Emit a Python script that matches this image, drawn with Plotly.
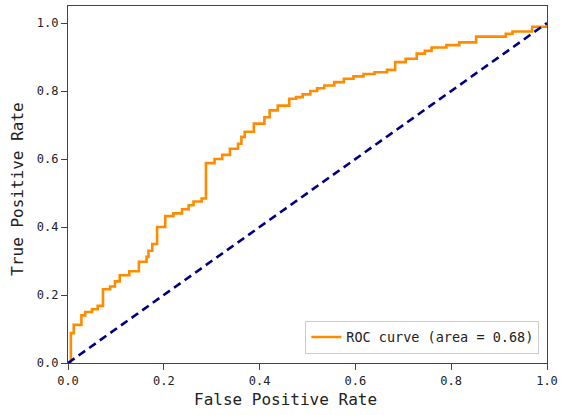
import plotly.graph_objects as go

fpr = [0, 0.006, 0.012, 0.028, 0.036, 0.050, 0.062, 0.073, 0.088, 0.098, 0.108, 0.128,
       0.148, 0.164, 0.168, 0.176, 0.186, 0.203, 0.220, 0.238, 0.252, 0.262, 0.279, 0.288,
       0.306, 0.322, 0.338, 0.355, 0.362, 0.369, 0.388, 0.410, 0.421, 0.438, 0.462, 0.476,
       0.490, 0.506, 0.520, 0.535, 0.556, 0.576, 0.596, 0.617, 0.640, 0.666, 0.683, 0.705,
       0.728, 0.745, 0.759, 0.790, 0.817, 0.852, 0.914, 0.928, 0.969, 1.0]
tpr = [0, 0.088, 0.112, 0.140, 0.150, 0.158, 0.168, 0.217, 0.225, 0.240, 0.258, 0.270,
       0.298, 0.312, 0.330, 0.350, 0.400, 0.432, 0.440, 0.452, 0.464, 0.475, 0.484, 0.588,
       0.600, 0.612, 0.630, 0.645, 0.665, 0.680, 0.704, 0.723, 0.743, 0.757, 0.777, 0.782,
       0.790, 0.800, 0.808, 0.816, 0.826, 0.836, 0.843, 0.850, 0.855, 0.862, 0.885, 0.895,
       0.910, 0.918, 0.928, 0.935, 0.943, 0.960, 0.968, 0.975, 0.989, 1.0]
diag = [0, 1]
roc_auc = 0.68
ticks = [0.0, 0.2, 0.4, 0.6, 0.8, 1.0]
tick_text = ["0.0", "0.2", "0.4", "0.6", "0.8", "1.0"]

FONT = "DejaVu Sans Mono"
TXT = "#222222"

fig = go.Figure()
fig.add_trace(go.Scatter(
    x=fpr, y=tpr, mode="lines", line_shape="hv",
    line=dict(color="darkorange", width=2.6),
    name="ROC curve (area = %0.2f)" % roc_auc,
))
fig.add_trace(go.Scatter(
    x=diag, y=diag, mode="lines",
    line=dict(color="navy", width=2.6, dash="8px,5px"),
    showlegend=False,
))

axis_common = dict(
    showgrid=False, zeroline=False, showline=True, mirror=True,
    linecolor="#444444", linewidth=1.4, ticks="outside", ticklen=6,
    tickwidth=1.2, tickcolor="#444444",
    tickfont=dict(family=FONT, size=12, color=TXT),
    tickvals=ticks, ticktext=tick_text,
)

fig.update_layout(
    width=563, height=415,
    margin=dict(l=68, r=11, t=5, b=52),
    paper_bgcolor="white", plot_bgcolor="white",
    xaxis=dict(range=[0, 1.0], **axis_common),
    yaxis=dict(range=[0, 1.05], **axis_common),
    legend=dict(
        x=0.984, y=0.026, xanchor="right", yanchor="bottom",
        bgcolor="white", bordercolor="#cccccc", borderwidth=1,
        font=dict(family=FONT, size=13.5, color=TXT),
        itemwidth=30,
    ),
    annotations=[
        dict(text="False Positive Rate", xref="paper", yref="paper",
             x=0.454, y=-0.102, xanchor="center", yanchor="middle",
             showarrow=False, font=dict(family=FONT, size=16, color=TXT)),
        dict(text="True Positive Rate", xref="paper", yref="paper",
             x=-0.106, y=0.486, xanchor="center", yanchor="middle",
             textangle=-90, showarrow=False,
             font=dict(family=FONT, size=16, color=TXT)),
    ],
)

fig.write_html("out.html")
